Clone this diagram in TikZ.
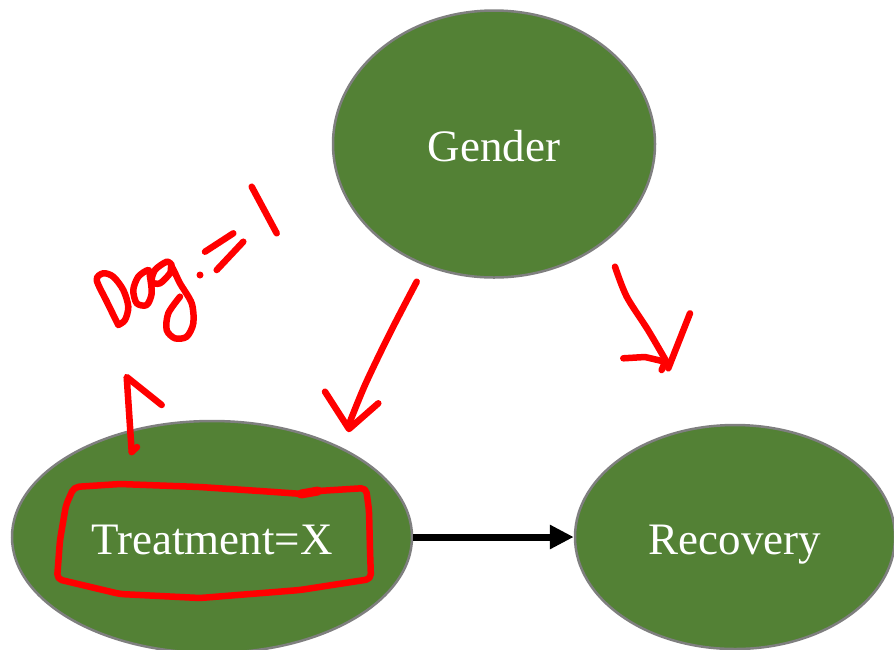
\documentclass[tikz,border=0pt]{standalone}
\usepackage{fontspec}
\setmainfont{Liberation Serif}
\usetikzlibrary{shapes.geometric,arrows.meta}
\definecolor{nodegreen}{HTML}{538135}
\definecolor{rimgray}{HTML}{7F7F7F}
\tikzset{
  var/.style={ellipse, fill=nodegreen, draw=rimgray, line width=2.5pt,
    text=white, inner sep=0pt, text height=34pt, text depth=0pt,
    font=\fontsize{45}{54}\selectfont},
  causal/.style={line width=7pt, -{Triangle[length=24pt,width=23pt]}},
  ink/.style={draw=red, line width=6.5pt, line cap=round, line join=round}
}
\begin{document}
\begin{tikzpicture}[x=1pt,y=-1pt]
\useasboundingbox (0,0) rectangle (894,649);

% causal graph
\node[var, minimum width=322pt, minimum height=267pt] (gender) at (494,144) {Gender};
\node[var, minimum width=400pt, minimum height=232pt] (treat) at (212,537) {Treatment=X};
\node[var, minimum width=320pt, minimum height=224pt] (recov) at (735,537) {Recovery};
\draw[causal] (treat) -- (recov);

% hand-written annotations
% arrow Gender -> Treatment
\draw[ink] plot[smooth] coordinates {(416.7,281.7) (390,333) (365,385) (348.3,426)};
\draw[ink] (325,391.7) -- (349,429) -- (378.3,403.3);
% arrow Gender -> Recovery
\draw[ink] plot[smooth] coordinates {(615,266.7) (626.7,296.7) (648,330) (666.7,362)};
\draw[ink] (690,313.3) -- (668.3,368.3);
\draw[ink] (623.3,358.3) -- (645,357) -- (665,361.7) -- (661.7,370);

% box around the treatment value
\draw[ink, rounded corners=5pt] (57,579) -- (60,540) -- (66,505) -- (74,487) -- (120,484)
  -- (200,487) -- (260,491) -- (303,494) -- (318,491) -- (366,488) -- (369,510)
  -- (370,550) -- (371,579) -- (300,590) -- (200,598) -- (120,594) -- cycle;
\draw[ink, line width=9pt] (301,494) -- (318,491);

% intervention mark
\draw[ink] (131.7,452) -- (126.7,377) -- (161.7,405);
\draw[ink] (131.7,452) -- (137,447);

% "Dog.=1"
\draw[ink] plot[smooth] coordinates {(118.3,325) (107,302) (96.7,280) (103.3,273.3)
  (113.3,276.7) (123.3,290) (128.3,306.7) (125,320) (118.3,325)};
\draw[ink] plot[smooth cycle] coordinates {(148.3,270) (138.3,276.7) (133.3,290)
  (136.7,303.3) (146.7,305) (151.7,293.3) (150,276.7)};
\draw[ink] plot[smooth] coordinates {(171.7,265) (166.7,261.7) (155,270) (151.7,281.7)
  (160,283.3) (170,273.3) (171.7,266.7) (180,283.3) (191.7,303.3) (193.3,323.3)
  (186.7,336.7) (175,338.3) (166.7,330) (168.3,313.3) (180,296.7)};
\fill[red] (200,275) circle (3.5pt);
\draw[ink] (205,251.7) -- (233.3,233.3);
\draw[ink] (216.7,270) -- (243.3,241.7);
\draw[ink] (251.7,186.7) -- (276.7,233.3);
\end{tikzpicture}
\end{document}
